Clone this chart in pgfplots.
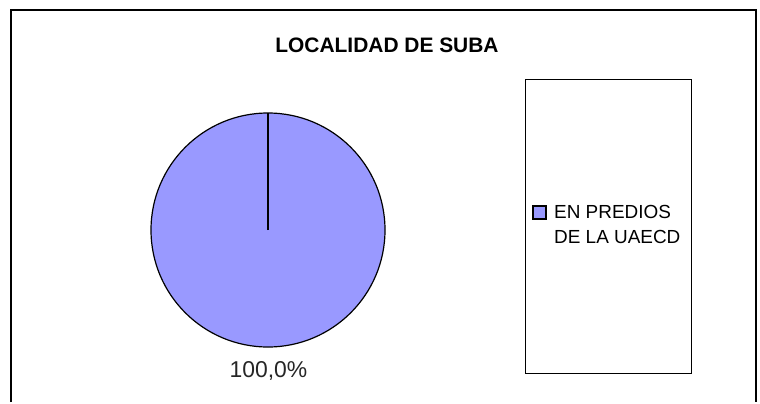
\documentclass[border=0pt]{standalone}
\usepackage{fontspec}
\setmainfont{Liberation Sans}
\usepackage{pgfplots}
\usepackage{pgfplotstable}
\pgfplotsset{compat=1.18}
\definecolor{slice}{HTML}{9999FF}

% one category, its share of the total
\pgfplotstableread{
label share
EN_PREDIOS 100
}\piedata

\begin{document}
\begin{tikzpicture}
\begin{axis}[
    width=760bp, height=402bp,
    scale only axis,
    xmin=0, xmax=760,
    ymin=0, ymax=402,
    y dir=reverse,
    axis lines=none,
    ticks=none,
    clip=false,
    /pgf/number format/assume math mode=true,
]
\pgfplotstablegetelem{0}{share}\of\piedata
\let\share\pgfplotsretval

% keep the full canvas as the bounding box
\path (axis cs:0,0) rectangle (axis cs:760,402);

% outer chart frame (bottom edge is cut off)
\draw[line width=2bp, black] (axis cs:11,402) -- (axis cs:11,10) -- (axis cs:756,10) -- (axis cs:756,402);

% title
\node[font=\bfseries\fontsize{21}{24}\selectfont] at (axis cs:387,45.5) {LOCALIDAD DE SUBA};

% pie: a single slice covering the whole disc
\filldraw[fill=slice, draw=black, line width=1.2bp] (axis cs:268,230) circle[radius=117bp];
\draw[line width=2bp, black] (axis cs:268,230) -- (axis cs:268,113);
\node[text=black!85, font=\fontsize{23}{26}\selectfont] at (axis cs:268.5,371)
    {\pgfmathprintnumber[fixed, fixed zerofill, precision=1, use comma]{\share}\%};

% legend
\draw[line width=0.8bp, black] (axis cs:525,79) rectangle (axis cs:691,373);
\filldraw[fill=slice, draw=black, line width=1.2bp] (axis cs:533,206) rectangle (axis cs:546,219);
\node[anchor=base west, inner sep=0pt, font=\fontsize{19}{22}\selectfont] at (axis cs:554,218) {EN PREDIOS};
\node[anchor=base west, inner sep=0pt, font=\fontsize{19}{22}\selectfont] at (axis cs:554,243) {DE LA UAECD};
\end{axis}
\end{tikzpicture}
\end{document}
